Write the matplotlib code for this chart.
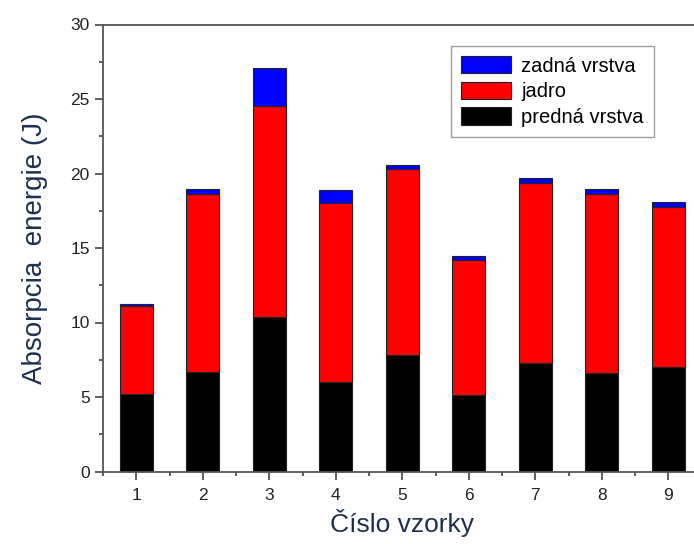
import matplotlib
matplotlib.use("Agg")
import matplotlib.pyplot as plt
from matplotlib.ticker import MultipleLocator
import numpy as np

plt.rcParams['font.family'] = ['Liberation Sans', 'DejaVu Sans']

samples = [1, 2, 3, 4, 5, 6, 7, 8, 9]
predna = [5.2, 6.66, 10.36, 6.04, 7.79, 5.15, 7.29, 6.64, 7.03]
jadro_top = [11.14, 18.6, 24.54, 18.0, 20.27, 14.18, 19.35, 18.6, 17.74]
total = [11.25, 18.97, 27.07, 18.9, 20.58, 14.45, 19.71, 18.95, 18.1]

jadro = [t - p for t, p in zip(jadro_top, predna)]
zadna = [t - j for t, j in zip(total, jadro_top)]

fig = plt.figure(figsize=(6.94, 5.44), dpi=100)
ax = fig.add_axes([103/694, 1 - 471.5/544, 598.5/694, 447/544])

x = np.array(samples)
w = 0.5
ec = '#222222'
b1 = ax.bar(x, predna, w, color='black', edgecolor=ec, linewidth=0.8, label='predná vrstva')
b2 = ax.bar(x, jadro, w, bottom=predna, color='#ff0000', edgecolor=ec, linewidth=0.8, label='jadro')
b3 = ax.bar(x, zadna, w, bottom=jadro_top, color='#0000ff', edgecolor=ec, linewidth=0.8, label='zadná vrstva')

ax.set_xlim(0.5, 9.5)
ax.set_ylim(0, 30)
ax.set_xticks(samples)
ax.set_yticks([0, 5, 10, 15, 20, 25, 30])
ax.xaxis.set_minor_locator(MultipleLocator(0.5))
ax.yaxis.set_minor_locator(MultipleLocator(2.5))
ax.tick_params(which='major', direction='out', length=6, width=1.1, labelsize=12.5, colors='#333333', labelcolor='#222222')
ax.tick_params(axis='x', which='major', pad=6)
ax.tick_params(which='minor', direction='out', length=3, width=1.1, colors='#333333')
for s in ['left', 'bottom', 'top']:
    ax.spines[s].set_color('#555555')
    ax.spines[s].set_linewidth(1.3)
ax.spines['right'].set_visible(False)

ax.set_xlabel('Číslo vzorky', fontsize=19, color='#1f2f4f', labelpad=4)
ax.set_ylabel('Absorpcia  energie (J)', fontsize=20, color='#1f2f4f', labelpad=16)

leg = ax.legend(handles=[b3, b2, b1], loc='upper right', bbox_to_anchor=((654 - 103) / 598.5, (471.5 - 46) / 447),
                borderaxespad=0, fontsize=14.5, frameon=True, fancybox=False, edgecolor='#888888',
                handlelength=2.5, handleheight=0.95, borderpad=0.5, labelspacing=0.3, handletextpad=0.5)
leg.get_frame().set_linewidth(1.0)

fig.savefig('out.png', dpi=100)
